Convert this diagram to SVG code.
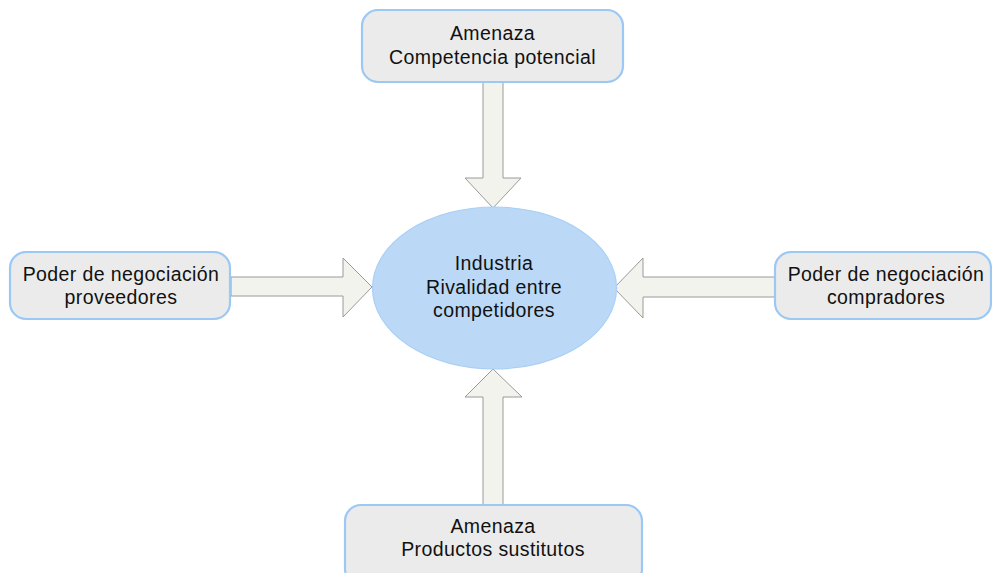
<svg xmlns="http://www.w3.org/2000/svg" width="992" height="573" viewBox="0 0 992 573">
  <style>
    .box { fill: #ebebeb; stroke: #9cc8f4; stroke-width: 2.2; }
    .core { fill: #bbd9f7; stroke: #a9cff5; stroke-width: 1.2; }
    .arrow { fill: #f3f3ee; stroke: #9a9a9a; stroke-width: 1; stroke-linejoin: miter; }
    .label { font-family: "Liberation Sans", Arial, sans-serif; font-size: 19.5px; letter-spacing: 0.4px; fill: #111; text-anchor: middle; }
  </style>
  <rect width="992" height="573" fill="#ffffff"/>

  <!-- block arrows pointing at the central ellipse -->
  <g id="connectors">
    <polygon class="arrow" points="483,82 503,82 503,178 521,178 493,208 465,178 483,178"/>
    <polygon class="arrow" points="483,506 503,506 503,397 522,397 493,369 465,397 483,397"/>
    <polygon class="arrow" points="231,277 343,277 343,258 372,287 343,317 343,296 231,296"/>
    <polygon class="arrow" points="775,277 643,277 643,258 614,288 643,318 643,297 775,297"/>
  </g>

  <g id="industria">
    <ellipse class="core" cx="494.5" cy="288" rx="122" ry="81"/>
    <text class="label" x="494" y="270">Industria</text>
    <text class="label" x="494" y="294">Rivalidad entre</text>
    <text class="label" x="494" y="317">competidores</text>
  </g>

  <g id="competencia-potencial">
    <rect class="box" x="362" y="10" width="261" height="72" rx="16"/>
    <text class="label" x="492.5" y="40">Amenaza</text>
    <text class="label" x="492.5" y="63.5">Competencia potencial</text>
  </g>

  <g id="proveedores">
    <rect class="box" x="10" y="252" width="220" height="67" rx="16"/>
    <text class="label" x="121" y="281">Poder de negociación</text>
    <text class="label" x="121" y="304">proveedores</text>
  </g>

  <g id="compradores">
    <rect class="box" x="775" y="252" width="216" height="67" rx="16"/>
    <text class="label" x="886" y="281">Poder de negociación</text>
    <text class="label" x="886" y="304">compradores</text>
  </g>

  <g id="productos-sustitutos">
    <rect class="box" x="345" y="505" width="297" height="80" rx="16"/>
    <text class="label" x="493" y="533">Amenaza</text>
    <text class="label" x="493" y="556">Productos sustitutos</text>
  </g>
</svg>
